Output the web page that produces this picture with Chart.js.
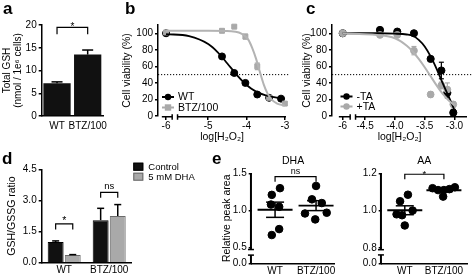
<!DOCTYPE html>
<html>
<head>
<meta charset="utf-8">
<script src="https://cdn.jsdelivr.net/npm/chart.js@4.4.1/dist/chart.umd.min.js"></script>
<style>
html,body{margin:0;padding:0;background:#fff;}
#wrap{position:relative;width:472px;height:276px;overflow:hidden;background:#fff;}
#wrap canvas{position:absolute;left:0;top:0;}
.pl{position:absolute;font-family:"Liberation Sans",Arial,sans-serif;font-weight:bold;font-size:17px;line-height:16px;color:#000;}
</style>
</head>
<body>
<div id="wrap">
<canvas id="cA" width="472" height="276"></canvas>
<canvas id="cB" width="472" height="276"></canvas>
<canvas id="cC" width="472" height="276"></canvas>
<canvas id="cD" width="472" height="276"></canvas>
<canvas id="cE1" width="472" height="276"></canvas>
<canvas id="cE2" width="472" height="276"></canvas>
<div class="pl" style="left:3px;top:1px">a</div>
<div class="pl" style="left:125px;top:1px">b</div>
<div class="pl" style="left:306px;top:1px">c</div>
<div class="pl" style="left:2px;top:151px">d</div>
<div class="pl" style="left:212px;top:151px">e</div>
</div>
<script>
// ================= DATA =================
// panel a
const groups = ['WT', 'BTZ/100'];
const gshTotal = [7.2, 13.5];
const gshTotalErr = [0.3, 1.0];
const aTicks = [0, 5, 10, 15, 20];

// panel b
const bTicks = [-6, -5, -4, -3];
const bTickLabels = ['-6', '-5', '-4', '-3'];
const vTicks = [0, 20, 40, 60, 80, 100];
const bWtX = [-6, -4.64, -4.32, -4.03, -3.72, -3.41, -3.1];
const bWtY = [100, 72, 52, 40, 26, 22, 21];
const bWtErr = [2, 2, 2, 2, 2, 1, 2];
const bBtzX = [-6, -4.64, -4.32, -4.03, -3.72, -3.41, -3.0];
const bBtzY = [101, 103, 108, 96, 60, 22, 15];
const bBtzErr = [2, 2, 1, 3, 4, 2, 2];
const bFitWtX = [-6, -5.5, -5, -4.75, -4.5, -4.25, -4, -3.75, -3.5, -3.25, -3];
const bFitWt = [99, 96.5, 87, 77, 63.5, 49.5, 37.5, 29.5, 25, 22.5, 21];
const bFitBtzX = [-6, -5, -4.4, -4.2, -4.05, -3.95, -3.85, -3.75, -3.65, -3.55, -3.45, -3.35, -3.2, -3.0];
const bFitBtz = [103, 103, 102.5, 101, 97, 92, 82, 69, 53, 38, 27, 20, 15, 12.5];
const threshold = 50;

// panel c
const cTicks = [-6, -4.5, -4.0, -3.5, -3.0];
const cTickLabels = ['-6', '-4.5', '-4.0', '-3.5', '-3.0'];
const cX = [-6, -4.25, -3.96, -3.68, -3.4, -3.22, -3.12, -3.02];
const cMinusTA = [100, 104, 102, 100, 69, 55, 28, 4];
const cMinusTAErr = [1, 1, 1, 1, 2, 10, 6, 4];
const cPlusTA = [100, 98, 98, 79, 26, 37, 32, 14];
const cPlusTAErr = [1, 1, 1, 5, 3, 4, 8, 3];
const cFitX = [-6, -4.6, -4.3, -4.0, -3.8, -3.7, -3.6, -3.5, -3.4, -3.3, -3.2, -3.1, -3.0];
const cFitMinus = [100, 100, 100, 99.5, 98.5, 97, 92, 84, 72, 57, 40, 24, 7];
const cFitPlus = [100, 99, 98, 94, 85, 78, 69, 59, 48, 37, 27, 19, 13];

// panel d
const dSeries = ['Control', '5 mM DHA'];
const dControl = [1.0, 2.05];
const dControlErr = [0.05, 0.57];
const dDHA = [0.37, 2.25];
const dDHAErr = [0.02, 0.55];
const dTicks = [0, 1.5, 3.0, 4.5];

// panel e
const eWtDHA = [1.21, 1.30, 1.08, 1.05, 0.75, 0.67];
const eBtzDHA = [1.33, 1.15, 1.10, 0.96, 0.97, 0.88];
const eWtAA = [1.085, 1.05, 0.98, 0.975, 1.0, 0.92];
const eBtzAA = [1.12, 1.11, 1.11, 1.115, 1.125, 1.075];
const eDHATicks = [0, 0.5, 1.0, 1.5];
const eAATicks = [0, 0.8, 1.0, 1.2];

// ================= LAYOUT / STYLE =================
const FONT = "'Liberation Sans', Arial, Helvetica, sans-serif";
Chart.defaults.font.family = FONT;
Chart.defaults.font.size = 10;
Chart.defaults.color = '#000';
const GRAYF = '#a9a9a9';
const GRAYL = '#b3b3b3';
const W = 472, H = 276, WY = 40;
const TICKF = 10, TITLEF = 10.5;
const jitWtDHA = [-0.08, 0.12, -0.1, 0.1, 0.1, -0.08];
const jitBtzDHA = [0, -0.1, 0.14, -0.27, 0.26, -0.02];
const jitWtAA = [0.08, -0.12, -0.21, -0.07, 0.2, 0];
const jitBtzAA = [-0.29, -0.15, 0, 0.14, 0.28, -0.02];

const bShow = v => v === -6 ? -6.1 : v;        // axis break b
const cShow = v => v === -6 ? -4.875 : v;      // axis break c
const e1Show = v => v === 0 ? 0.29 : v;        // axis break e (DHA)
const e2Show = v => v === 0 ? 0.717 : v;       // axis break e (AA)

function frame(l, t, r, b, hx) {
  return {padding: {left: l - WY, top: t, right: W - r, bottom: H - b - hx}};
}
function yAxis(o) {
  const show = o.show || (v => v);
  return {
    type: 'linear', position: 'left', min: o.min, max: o.max,
    afterBuildTicks: s => { s.ticks = o.ticks.map(v => ({value: show(v)})); },
    afterFit: s => { s.width = WY; s.paddingTop = 0; s.paddingBottom = 0; },
    grid: {display: true, drawOnChartArea: false, drawTicks: true, tickLength: 3, color: '#000', lineWidth: 1.5},
    border: {display: o.border !== false, color: '#000', width: 1.5},
    ticks: {padding: 2, color: '#000', font: {size: TICKF}, autoSkip: false,
      callback: (v, i) => o.fmt(o.ticks[i])},
    title: o.title ? {display: true, text: o.title, color: '#000', font: {size: o.tf || TITLEF, lineHeight: 1.1},
      padding: {top: o.tpad, bottom: 0}} : {display: false}
  };
}
function xLin(o) {
  const show = o.show || (v => v);
  return {
    type: 'linear', position: 'bottom', min: o.min, max: o.max,
    afterBuildTicks: s => { s.ticks = o.ticks.map(v => ({value: show(v)})); },
    afterFit: s => { s.height = o.hx; s.paddingLeft = 0; s.paddingRight = 0; },
    grid: o.tickMarks ? {display: true, drawOnChartArea: false, drawTicks: true, tickLength: 4, color: '#000', lineWidth: 1.5}
                      : {display: false, drawTicks: false},
    border: {display: o.border !== false, color: '#000', width: 1.5},
    ticks: {padding: o.pad, color: '#000', font: {size: TICKF}, maxRotation: 0, minRotation: 0, autoSkip: false,
      callback: (v, i) => o.labels[i]},
    title: o.title ? {display: true, text: o.title, color: '#000', font: {size: TITLEF}, padding: {top: 0, bottom: o.tpad}} : {display: false}
  };
}
function xCat(o) {
  return {
    type: 'category', position: 'bottom',
    afterFit: s => { s.height = o.hx; s.paddingLeft = 0; s.paddingRight = 0; },
    grid: {display: false, drawTicks: false},
    border: {display: true, color: '#000', width: 1.5},
    ticks: {padding: o.pad, color: '#000', font: {size: TICKF}, maxRotation: 0, minRotation: 0, autoSkip: false}
  };
}
const base = {animation: false, responsive: false, devicePixelRatio: 1, events: [],
  plugins: {legend: {display: false}, tooltip: {enabled: false}, title: {display: false}}};

// ---------- drawing helpers ----------
function seg(ctx, pts, w, color, dash) {
  ctx.save(); ctx.beginPath(); ctx.lineWidth = w; ctx.strokeStyle = color || '#000';
  if (dash) ctx.setLineDash(dash);
  ctx.moveTo(pts[0], pts[1]);
  for (let i = 2; i < pts.length; i += 2) ctx.lineTo(pts[i], pts[i + 1]);
  ctx.stroke(); ctx.restore();
}
function txt(ctx, s, x, y, size, align, base) {
  ctx.save(); ctx.fillStyle = '#000'; ctx.font = size + 'px ' + FONT;
  ctx.textAlign = align || 'center'; ctx.textBaseline = base || 'alphabetic';
  ctx.fillText(s, x, y); ctx.restore();
}
function bracket(ctx, x1, x2, y, drop, label, size, dy) {
  seg(ctx, [x1, y + drop, x1, y, x2, y, x2, y + drop], 1.2);
  txt(ctx, label, (x1 + x2) / 2, y + dy, size);
}
function errBar(ctx, x, y0, y1, cap, color, w) {
  seg(ctx, [x, y0, x, y1], w, color);
  seg(ctx, [x - cap / 2, y1, x + cap / 2, y1], w, color);
}
function breakX(chart, segs) {
  const {ctx, chartArea} = chart, xs = chart.scales.x, y = chartArea.bottom + 0.75;
  segs.forEach(([a, b]) => seg(ctx, [xs.getPixelForValue(a), y, xs.getPixelForValue(b), y], 1.5));
  for (let i = 0; i < segs.length - 1; i++) {
    const p = xs.getPixelForValue(segs[i][1]), q = xs.getPixelForValue(segs[i + 1][0]);
    seg(ctx, [p, y - 2.5, p, y + 3], 1.5); seg(ctx, [q, y - 2.5, q, y + 3], 1.5);
  }
}
function breakY(chart, segs) {
  const {ctx, chartArea} = chart, ys = chart.scales.y, x = chartArea.left - 0.75;
  segs.forEach(([a, b]) => seg(ctx, [x, ys.getPixelForValue(a), x, ys.getPixelForValue(b)], 2));
  for (let i = 0; i < segs.length - 1; i++) {
    const p = ys.getPixelForValue(segs[i][1]), q = ys.getPixelForValue(segs[i + 1][0]);
    seg(ctx, [x - 3, p, x + 3, p], 1.5); seg(ctx, [x - 3, q, x + 3, q], 1.5);
  }
}
function legendItem(ctx, x, y, color, style, r, label, size) {
  seg(ctx, [x - 6, y, x + 6, y], 2, color);
  ctx.save(); ctx.fillStyle = color;
  if (style === 'rect') ctx.fillRect(x - r, y - r, 2 * r, 2 * r);
  else { ctx.beginPath(); ctx.arc(x, y, r, 0, 2 * Math.PI); ctx.fill(); }
  ctx.restore();
  txt(ctx, label, x + 10, y + 0.5, size, 'left', 'middle');
}
function pts(xs, ys, show) { return xs.map((x, i) => ({x: show(x), y: ys[i]})); }
function dotLine(chart, right) {
  const {ctx, chartArea} = chart, y = chart.scales.y.getPixelForValue(threshold);
  seg(ctx, [chartArea.left, y, right, y], 1, '#000', [1.2, 1.8]);
}
function pointErrs(chart, xs, ys, errs, show, color) {
  const {ctx} = chart, sx = chart.scales.x, sy = chart.scales.y;
  xs.forEach((x, i) => {
    if (!errs[i]) return;
    const px = sx.getPixelForValue(show(x));
    errBar(ctx, px, sy.getPixelForValue(ys[i]), sy.getPixelForValue(ys[i] + errs[i]), 5, color, 1.2);
    errBar(ctx, px, sy.getPixelForValue(ys[i]), sy.getPixelForValue(ys[i] - errs[i]), 5, color, 1.2);
  });
}
const mean = a => a.reduce((s, v) => s + v, 0) / a.length;
const sem = a => { const m = mean(a); return Math.sqrt(a.reduce((s, v) => s + (v - m) * (v - m), 0) / (a.length - 1) / a.length); };

// ================= PANEL A =================
new Chart(document.getElementById('cA'), {
  type: 'bar',
  data: {labels: groups, datasets: [{data: gshTotal, backgroundColor: '#111', borderWidth: 0,
    barPercentage: 0.89, categoryPercentage: 1}]},
  options: Object.assign({}, base, {
    layout: frame(41.7, 25, 103, 116, 20),
    scales: {
      x: xCat({hx: 20, pad: 4}),
      y: yAxis({min: 0, max: 20, ticks: aTicks, fmt: v => String(v),
        title: ['Total GSH', '(nmol / 1e\u2076 cells)'], tpad: 0, tf: 10})
    }
  }),
  plugins: [{id: 'pa', afterDatasetsDraw(chart) {
    const {ctx} = chart, ys = chart.scales.y, m = chart.getDatasetMeta(0);
    m.data.forEach((bar, i) => errBar(ctx, bar.x, ys.getPixelForValue(gshTotal[i]),
      ys.getPixelForValue(gshTotal[i] + gshTotalErr[i]), 11, '#000', 1.5));
    bracket(ctx, m.data[0].x, m.data[1].x, ys.getPixelForValue(19.5), 7, '*', 10, 3);
  }}]
});

// ================= PANEL B =================
new Chart(document.getElementById('cB'), {
  type: 'scatter',
  data: {datasets: [
    {label: 'BTZ/100 fit', data: pts(bFitBtzX, bFitBtz, bShow), showLine: true, borderColor: GRAYL, borderWidth: 2,
      pointRadius: 0, cubicInterpolationMode: 'monotone', clip: 6},
    {label: 'WT fit', data: pts(bFitWtX, bFitWt, bShow), showLine: true, borderColor: '#000', borderWidth: 1.8,
      pointRadius: 0, cubicInterpolationMode: 'monotone', clip: 6},
    {label: 'BTZ/100', data: pts(bBtzX, bBtzY, bShow), pointStyle: 'rect', pointRadius: 3.5,
      backgroundColor: GRAYF, borderColor: GRAYF, clip: 6},
    {label: 'WT', data: pts(bWtX, bWtY, bShow), pointStyle: 'circle', pointRadius: 3.5,
      backgroundColor: '#000', borderColor: '#000', clip: 6}
  ]},
  options: Object.assign({}, base, {
    layout: frame(158, 25, 286, 116, 30),
    scales: {
      x: xLin({min: -6.31, max: -2.97, ticks: bTicks, show: bShow, labels: bTickLabels, hx: 30, pad: 0,
        tickMarks: true, border: false, title: 'log[H\u2082O\u2082]', tpad: 3}),
      y: yAxis({min: 0, max: 110, ticks: vTicks, fmt: v => String(v), title: 'Cell viability (%)', tpad: 3})
    }
  }),
  plugins: [{id: 'pb',
    beforeDatasetsDraw(chart) {
      dotLine(chart, chart.chartArea.right + 4);
      pointErrs(chart, bBtzX, bBtzY, bBtzErr, bShow, GRAYF);
      pointErrs(chart, bWtX, bWtY, bWtErr, bShow, '#000');
    },
    afterDraw(chart) {
      breakX(chart, [[-6.21, -5.94], [-5.8, -2.97]]);
      legendItem(chart.ctx, 168, 97, '#000', 'circle', 3.2, 'WT', 10.5);
      legendItem(chart.ctx, 168, 107.5, GRAYF, 'rect', 3.2, 'BTZ/100', 10.5);
    }}]
});

// ================= PANEL C =================
new Chart(document.getElementById('cC'), {
  type: 'scatter',
  data: {datasets: [
    {label: '+TA fit', data: pts(cFitX, cFitPlus, cShow), showLine: true, borderColor: GRAYL, borderWidth: 2,
      pointRadius: 0, cubicInterpolationMode: 'monotone', clip: 6},
    {label: '-TA fit', data: pts(cFitX, cFitMinus, cShow), showLine: true, borderColor: '#000', borderWidth: 1.8,
      pointRadius: 0, cubicInterpolationMode: 'monotone', clip: 6},
    {label: '+TA', data: pts(cX, cPlusTA, cShow), pointStyle: 'circle', pointRadius: 3.4,
      backgroundColor: GRAYF, borderColor: GRAYF, clip: 6},
    {label: '-TA', data: pts(cX, cMinusTA, cShow), pointStyle: 'circle', pointRadius: 3.6,
      backgroundColor: '#000', borderColor: '#000', clip: 6}
  ]},
  options: Object.assign({}, base, {
    layout: frame(332, 25, 471, 116, 30),
    scales: {
      x: xLin({min: -5.055, max: -2.79, ticks: cTicks, show: cShow, labels: cTickLabels, hx: 30, pad: 0,
        tickMarks: true, border: false, title: 'log[H\u2082O\u2082]', tpad: 3}),
      y: yAxis({min: 0, max: 110, ticks: vTicks, fmt: v => String(v), title: 'Cell viability (%)', tpad: 9.5})
    }
  }),
  plugins: [{id: 'pc',
    beforeDatasetsDraw(chart) {
      dotLine(chart, W);
      pointErrs(chart, cX, cPlusTA, cPlusTAErr, cShow, GRAYF);
      pointErrs(chart, cX, cMinusTA, cMinusTAErr, cShow, '#000');
    },
    afterDraw(chart) {
      breakX(chart, [[-4.94, -4.75], [-4.66, -2.79]]);
      legendItem(chart.ctx, 346.5, 96.5, '#000', 'circle', 3.2, '-TA', 10.5);
      legendItem(chart.ctx, 346.5, 106.5, GRAYF, 'circle', 3.2, '+TA', 10.5);
    }}]
});

// ================= PANEL D =================
new Chart(document.getElementById('cD'), {
  type: 'bar',
  data: {labels: groups, datasets: [
    {label: dSeries[0], data: dControl, backgroundColor: '#111', borderColor: '#000', borderWidth: 1,
      barPercentage: 0.93, categoryPercentage: 0.76},
    {label: dSeries[1], data: dDHA, backgroundColor: GRAYF, borderColor: '#6a6a6a', borderWidth: 1,
      barPercentage: 0.93, categoryPercentage: 0.76}
  ]},
  options: Object.assign({}, base, {
    layout: frame(41.7, 169.3, 131.7, 262.7, 13),
    scales: {
      x: xCat({hx: 13, pad: 2}),
      y: yAxis({min: 0, max: 4.5, ticks: dTicks, fmt: v => v.toFixed(1), title: 'GSH/GSSG ratio', tpad: 4.5})
    }
  }),
  plugins: [{id: 'pd', afterDatasetsDraw(chart) {
    const {ctx} = chart, ys = chart.scales.y;
    const m0 = chart.getDatasetMeta(0), m1 = chart.getDatasetMeta(1);
    [[m0, dControl, dControlErr], [m1, dDHA, dDHAErr]].forEach(([m, v, e]) => m.data.forEach((bar, i) =>
      errBar(ctx, bar.x, ys.getPixelForValue(v[i]), ys.getPixelForValue(v[i] + e[i]), 7, '#000', 1.5)));
    bracket(ctx, m0.data[0].x, m1.data[0].x, ys.getPixelForValue(1.87), 5.5, '*', 10.5, 0.5);
    bracket(ctx, m0.data[1].x, m1.data[1].x, ys.getPixelForValue(3.39), 5.5, 'ns', 9.5, -3);
    // legend
    const lx = 133.3;
    [162.7, 172.7].forEach((y, k) => {
      const ds = chart.data.datasets[k];
      ctx.save(); ctx.fillStyle = ds.backgroundColor; ctx.fillRect(lx, y, 10, 8);
      ctx.strokeStyle = ds.borderColor; ctx.lineWidth = 1; ctx.strokeRect(lx + 0.5, y + 0.5, 9, 7); ctx.restore();
      txt(ctx, ds.label, lx + 15, y + 4.3, 9.5, 'left', 'middle');
    });
  }}]
});

// ================= PANEL E =================
function ePanel(id, area, ymin, ymax, ticks, show, wt, btz, jw, jb, title, brY, brLabel, brSize, brDy, ytitle, segs) {
  new Chart(document.getElementById(id), {
    type: 'scatter',
    data: {datasets: [
      {label: 'WT', data: wt.map((v, i) => ({x: 1 + jw[i], y: v})), pointRadius: 3.8, backgroundColor: '#000', borderColor: '#000', clip: 6},
      {label: 'BTZ/100', data: btz.map((v, i) => ({x: 2 + jb[i], y: v})), pointRadius: 3.8, backgroundColor: '#000', borderColor: '#000', clip: 6}
    ]},
    options: Object.assign({}, base, {
      layout: frame(area[0], area[1], area[2], area[3], 12),
      scales: {
        x: xLin({min: area[4], max: area[5], ticks: [1, 2], labels: groups, hx: 12, pad: 2, tickMarks: false}),
        y: yAxis({min: ymin, max: ymax, ticks: ticks, show: show, fmt: v => v.toFixed(1), border: false,
          title: ytitle, tpad: 9.5})
      }
    }),
    plugins: [{id: id,
      beforeDatasetsDraw(chart) {
        const {ctx} = chart, sx = chart.scales.x, sy = chart.scales.y;
        [[1, wt], [2, btz]].forEach(([c, arr]) => {
          const cx = sx.getPixelForValue(c), m = mean(arr), s = sem(arr);
          seg(ctx, [cx - 17.5, sy.getPixelForValue(m), cx + 17.5, sy.getPixelForValue(m)], 1.8);
          errBar(ctx, cx, sy.getPixelForValue(m), sy.getPixelForValue(m + s), 18, '#000', 1.5);
          errBar(ctx, cx, sy.getPixelForValue(m), sy.getPixelForValue(m - s), 18, '#000', 1.5);
        });
      },
      afterDraw(chart) {
        const {ctx, chartArea} = chart, sx = chart.scales.x, sy = chart.scales.y;
        breakY(chart, segs);
        txt(ctx, title, (chartArea.left + chartArea.right) / 2, 161.5, 10.5, 'center', 'middle');
        bracket(ctx, sx.getPixelForValue(1), sx.getPixelForValue(2), sy.getPixelForValue(brY), 5, brLabel, brSize, brDy);
      }}]
  });
}
ePanel('cE1', [251.7, 173.3, 334.5, 263.3, 0.43, 2.45], 0.29, 1.5, eDHATicks, e1Show, eWtDHA, eBtzDHA,
  jitWtDHA, jitBtzDHA, 'DHA', 1.455, 'ns', 9, -2.3, 'Relative peak area', [[0.29, 0.40], [0.475, 1.5]]);
ePanel('cE2', [381.7, 173.3, 471, 263.3, 0.41, 2.59], 0.717, 1.2, eAATicks, e2Show, eWtAA, eBtzAA,
  jitWtAA, jitBtzAA, 'AA', 1.195, '*', 9.5, 2.5, null, [[0.717, 0.762], [0.79, 1.2]]);
</script>
</body>
</html>
